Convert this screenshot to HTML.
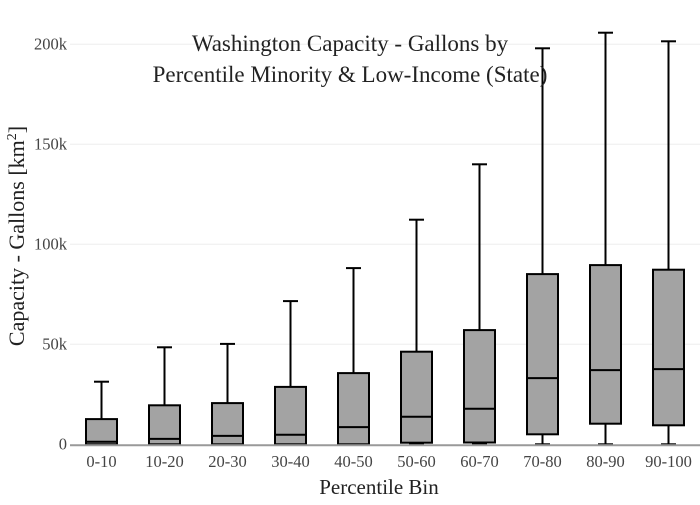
<!DOCTYPE html>
<html><head><meta charset="utf-8"><style>
body{margin:0;background:#fff}
svg{font-family:"Liberation Serif",serif}
</style></head><body>
<svg id="chart" width="700" height="500" xmlns="http://www.w3.org/2000/svg">
<g id="grid"></g>
<g id="boxes"></g>
<g id="axes"></g>
<text x="350" y="51" text-anchor="middle" font-size="23" fill="#222">Washington Capacity - Gallons by</text>
<text x="350" y="82" text-anchor="middle" font-size="23" fill="#222">Percentile Minority &amp; Low-Income (State)</text>
<text x="379" y="494" text-anchor="middle" font-size="21" fill="#222">Percentile Bin</text>
<text transform="translate(24,236) rotate(-90)" text-anchor="middle" font-size="22" fill="#222">Capacity - Gallons  [km<tspan dy="-8" font-size="14">2</tspan><tspan dy="8">]</tspan></text>
</svg>
<script>
const categories=["0-10","10-20","20-30","30-40","40-50","50-60","60-70","70-80","80-90","90-100"];
const lowerWhisker=[0,0,0,0,0,0,0,0,0,0];
const q1=[0,0,0,0,0,800,900,5000,10300,9500];
const median=[1300,2700,4200,4800,8600,13800,17800,33100,37100,37600];
const q3=[12600,19500,20600,28700,35600,46300,57100,85100,89600,87300];
const upperWhisker=[31300,48500,50200,71600,88100,112300,140000,198000,205800,201500];
const yTicks=[0,50000,100000,150000,200000];
const yTickLabels=["0","50k","100k","150k","200k"];
const NS="http://www.w3.org/2000/svg";
const X0=70,X1=700,Y0=444.3,PX=100/50000;
const bw=(X1-X0)/categories.length;
function xs(i){return X0+bw*(i+0.5);}
function ys(v){return Y0-v*PX;}
function mk(tag,attrs,parent){const e=document.createElementNS(NS,tag);for(const k in attrs)e.setAttribute(k,attrs[k]);parent.appendChild(e);return e;}
const grid=document.getElementById('grid'),boxes=document.getElementById('boxes'),axes=document.getElementById('axes');
yTicks.forEach((t,i)=>{
  if(t>0){const l=mk('line',{x1:X0,x2:X1,y1:ys(t),y2:ys(t),stroke:'#eee','stroke-width':1},grid);
  
  }
  const tx=mk('text',{x:67,y:ys(t)+5,'text-anchor':'end','font-size':16.5,fill:'#444'},axes);
  tx.textContent=yTickLabels[i];
  
  
});
categories.forEach((c,i)=>{
  const cx=xs(i),w=31,cap=15;
  const g=mk('g',{},boxes);
  
  
  const s={stroke:'#000','stroke-width':2};
  mk('line',Object.assign({x1:cx,x2:cx,y1:ys(q3[i]),y2:ys(upperWhisker[i])},s),g);
  mk('line',Object.assign({x1:cx,x2:cx,y1:ys(q1[i]),y2:ys(lowerWhisker[i])},s),g);
  mk('line',Object.assign({x1:cx-cap/2,x2:cx+cap/2,y1:ys(upperWhisker[i]),y2:ys(upperWhisker[i])},s),g);
  mk('line',Object.assign({x1:cx-cap/2,x2:cx+cap/2,y1:ys(lowerWhisker[i]),y2:ys(lowerWhisker[i])},s),g);
  mk('rect',Object.assign({x:cx-w/2,y:ys(q3[i]),width:w,height:ys(q1[i])-ys(q3[i]),fill:'#a3a3a3'},s),g);
  mk('line',Object.assign({x1:cx-w/2,x2:cx+w/2,y1:ys(median[i]),y2:ys(median[i])},s),g);
  const tx=mk('text',{x:cx,y:467,'text-anchor':'middle','font-size':16.5,fill:'#444'},axes);
  tx.textContent=c;
  
  
});
const zl=mk('line',{x1:X0,x2:X1,y1:ys(0)+1,y2:ys(0)+1,stroke:'#999','stroke-width':2},axes);


</script>
</body></html>
